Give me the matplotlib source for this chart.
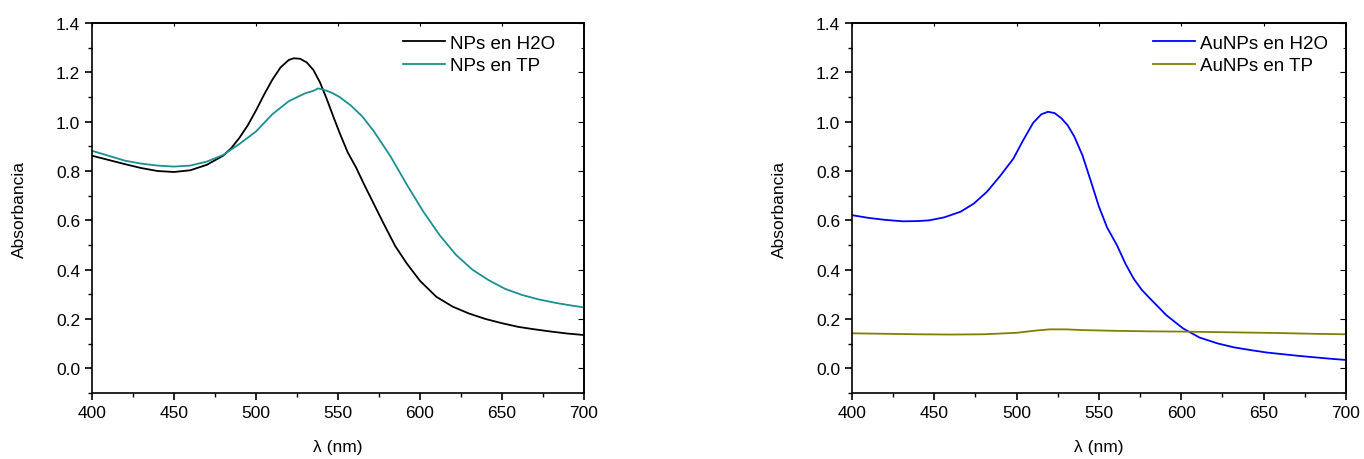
import matplotlib
matplotlib.use("Agg")
import matplotlib.pyplot as plt
from matplotlib.ticker import MultipleLocator

plt.rcParams['font.family'] = ['Liberation Sans', 'DejaVu Sans']
plt.rcParams['font.size'] = 12.5

# left panel: NPs
wl_h2o = [400, 410, 420, 430, 440, 450, 460, 470, 480, 485, 490, 495, 500, 505, 510, 515,
          520, 523, 527, 531, 535, 539, 543, 547, 551, 556, 561, 566, 572, 578, 585, 592,
          600, 610, 620, 630, 640, 650, 660, 670, 680, 690, 700]
abs_h2o = [0.862, 0.845, 0.828, 0.812, 0.800, 0.796, 0.803, 0.825, 0.862, 0.893, 0.935, 0.985,
           1.045, 1.110, 1.170, 1.220, 1.250, 1.257, 1.255, 1.240, 1.210, 1.160, 1.095, 1.024,
           0.955, 0.875, 0.815, 0.745, 0.665, 0.585, 0.495, 0.425, 0.355, 0.290, 0.250, 0.222,
           0.200, 0.183, 0.168, 0.158, 0.149, 0.141, 0.135]

wl_tp = [400, 410, 420, 430, 440, 450, 460, 470, 480, 490, 500, 510, 520, 530, 535, 538, 542,
         546, 551, 558, 565, 572, 582, 592, 602, 612, 622, 632, 642, 652, 662, 672, 683, 692, 700]
abs_tp = [0.882, 0.862, 0.842, 0.830, 0.822, 0.818, 0.822, 0.838, 0.865, 0.910, 0.960, 1.030,
          1.083, 1.115, 1.125, 1.135, 1.128, 1.118, 1.100, 1.065, 1.020, 0.960, 0.860, 0.745,
          0.636, 0.540, 0.460, 0.400, 0.357, 0.322, 0.298, 0.280, 0.265, 0.255, 0.247]

# right panel: AuNPs
wl_au_h2o = [400, 410, 420, 431, 440, 447, 456, 466, 474, 482, 490, 498, 504, 510, 515, 519,
             523, 527, 531, 535, 540, 545, 550, 555, 561, 566, 571, 576, 581, 591, 601, 611,
             622, 632, 642, 652, 662, 672, 682, 692, 700]
abs_au_h2o = [0.621, 0.610, 0.602, 0.596, 0.597, 0.600, 0.612, 0.635, 0.668, 0.716, 0.780, 0.850,
              0.925, 0.995, 1.030, 1.040, 1.035, 1.015, 0.985, 0.940, 0.863, 0.760, 0.655, 0.570,
              0.498, 0.425, 0.364, 0.318, 0.283, 0.215, 0.162, 0.125, 0.101, 0.085, 0.074, 0.064,
              0.057, 0.050, 0.044, 0.038, 0.034]

wl_au_tp = [400, 420, 440, 460, 480, 500, 510, 520, 530, 540, 560, 580, 600, 620, 640, 660, 680, 700]
abs_au_tp = [0.142, 0.140, 0.138, 0.137, 0.138, 0.144, 0.152, 0.158, 0.158, 0.155, 0.152, 0.150,
             0.149, 0.147, 0.145, 0.143, 0.140, 0.138]

fig = plt.figure(figsize=(13.64, 4.6), dpi=100)
ax1 = fig.add_axes([0.0674, 0.1435, 0.3607, 0.8043])
ax2 = fig.add_axes([0.6246, 0.1435, 0.3622, 0.8043])

ax1.plot(wl_h2o, abs_h2o, color="black", lw=1.3, label="NPs en H2O")
ax1.plot(wl_tp, abs_tp, color="#1a9090", lw=1.3, label="NPs en TP")
ax2.plot(wl_au_h2o, abs_au_h2o, color="#0000ff", lw=1.3, label="AuNPs en H2O")
ax2.plot(wl_au_tp, abs_au_tp, color="#808000", lw=1.3, label="AuNPs en TP")

for ax, leg_x in ((ax1, 0.941), (ax2, 0.964)):
    ax.set_xlim(400, 700)
    ax.set_ylim(-0.1, 1.4)
    ax.xaxis.set_major_locator(MultipleLocator(50))
    ax.xaxis.set_minor_locator(MultipleLocator(25))
    ax.yaxis.set_major_locator(MultipleLocator(0.2))
    ax.yaxis.set_minor_locator(MultipleLocator(0.1))
    ax.yaxis.set_major_formatter(plt.FormatStrFormatter('%.1f'))
    ax.tick_params(which="major", direction="out", length=5, width=1.2, labelsize=12.5)
    ax.tick_params(which="minor", direction="out", length=3, width=1.0)
    for s in ax.spines.values():
        s.set_linewidth(1.2)
    ax.set_xlabel("λ (nm)", fontsize=12.5, labelpad=14)
    ax.set_ylabel("Absorbancia", fontsize=12.5, labelpad=21)
    ax.legend(loc="upper right", bbox_to_anchor=(leg_x, 0.968), frameon=False,
              fontsize=13.5, handlelength=2.25, handletextpad=0.27, labelspacing=0.28,
              borderpad=0, borderaxespad=0)
    # small inward ticks on top and right
    top = ax.secondary_xaxis("top")
    top.xaxis.set_major_locator(MultipleLocator(50))
    top.tick_params(direction="in", length=2.5, labeltop=False)
    right = ax.secondary_yaxis("right")
    right.yaxis.set_major_locator(MultipleLocator(0.2))
    right.yaxis.set_minor_locator(MultipleLocator(0.1))
    right.tick_params(which="major", direction="in", length=4, labelright=False)
    right.tick_params(which="minor", direction="in", length=2.5)
    top.spines["top"].set_linewidth(1.2)
    right.spines["right"].set_linewidth(1.2)

fig.savefig("out.png", dpi=100)
